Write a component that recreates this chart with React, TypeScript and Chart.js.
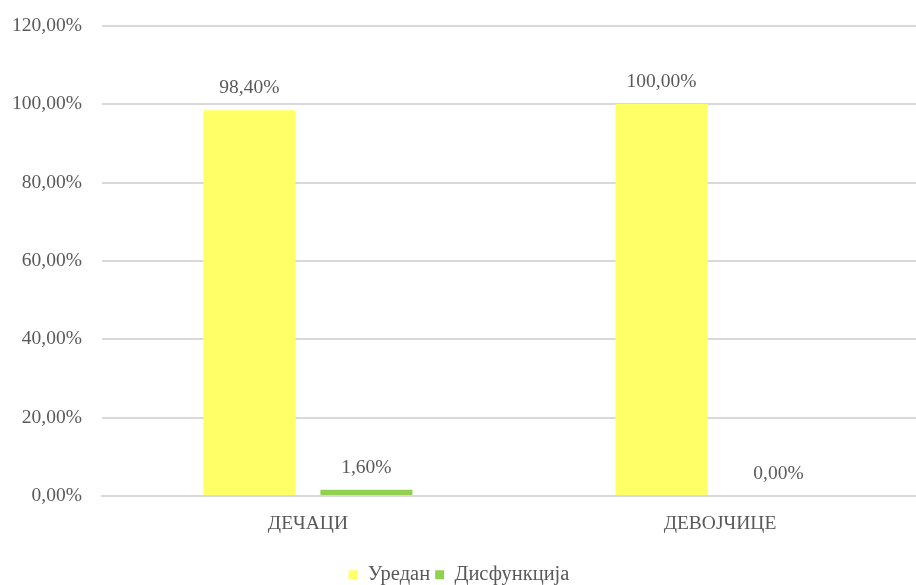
import React, { useEffect, useRef } from "react";
import { Chart, registerables } from "chart.js";

Chart.register(...registerables);

const categories = ["ДЕЧАЦИ", "ДЕВОЈЧИЦЕ"];
const uredan = [98.4, 100];
const disfunkcija = [1.6, 0];
const seriesNames = ["Уредан", "Дисфункција"];

const FONT = "'Liberation Serif', 'Times New Roman', serif";
const TEXT = "#595959";
const FS = 19.5;
const fmt = (v: number) => v.toFixed(2).replace(".", ",") + "%";

const valueLabels = {
  id: "valueLabels",
  afterDatasetsDraw(chart: any) {
    const ctx = chart.ctx;
    ctx.save();
    ctx.font = `${FS}px ${FONT}`;
    ctx.fillStyle = TEXT;
    ctx.textAlign = "center";
    ctx.textBaseline = "middle";
    chart.data.datasets.forEach((ds: any, i: number) => {
      const meta = chart.getDatasetMeta(i);
      meta.data.forEach((bar: any, j: number) => {
        ctx.fillText(fmt(ds.data[j]), bar.x, bar.y - 22);
      });
    });
    ctx.restore();
  },
};

export default function App() {
  const ref = useRef<HTMLCanvasElement>(null);
  useEffect(() => {
    document.body.style.margin = "0";
    document.body.style.overflow = "hidden";
    const chart = new Chart(ref.current!, {
      type: "bar",
      data: {
        labels: categories,
        datasets: [
          { label: seriesNames[0], data: uredan, backgroundColor: "#FFFF66" },
          { label: seriesNames[1], data: disfunkcija, backgroundColor: "#92D050" },
        ],
      },
      plugins: [valueLabels],
      options: {
        animation: false,
        responsive: false,
        layout: { padding: { left: -8, right: 4, top: 2, bottom: -10 } },
        datasets: { bar: { categoryPercentage: 0.568, barPercentage: 0.786 } } as any,
        scales: {
          x: {
            grid: { display: false },
            border: { color: "#d9d9d9", width: 2 },
            ticks: { color: TEXT, font: { family: FONT, size: FS }, padding: 8 },
            afterFit: (scale: any) => {
              scale.height += 16;
            },
          },
          y: {
            min: 0,
            max: 120,
            border: { display: false },
            grid: { color: "#d9d9d9", lineWidth: 2, drawTicks: false },
            ticks: {
              stepSize: 20,
              color: TEXT,
              font: { family: FONT, size: FS },
              padding: 20,
              callback: (v: any) => fmt(Number(v)),
            },
          },
        },
        plugins: {
          legend: {
            position: "bottom",
            labels: {
              color: TEXT,
              font: { family: FONT, size: 20.5 },
              boxWidth: 9,
              boxHeight: 9,
              padding: 5,
            },
          },
          tooltip: { enabled: false },
        },
      },
    });
    return () => chart.destroy();
  }, []);
  return (
    <div style={{ position: "absolute", left: 0, top: -6, width: 930, height: 591 }}>
      <canvas ref={ref} width={930} height={591} />
    </div>
  );
}
